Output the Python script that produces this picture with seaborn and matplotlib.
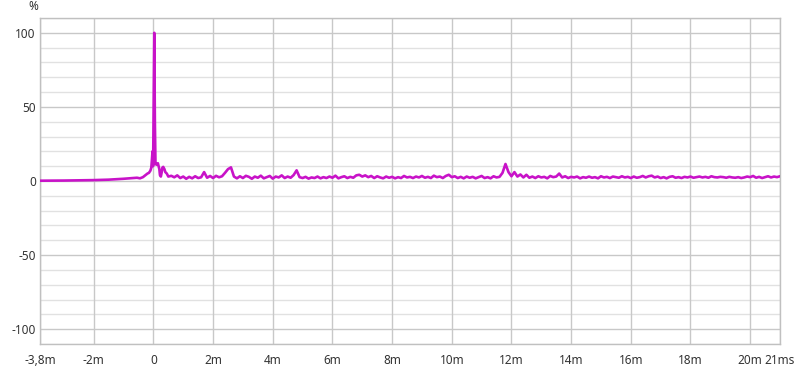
import numpy as np
import pandas as pd
import matplotlib
matplotlib.use("Agg")
import matplotlib.pyplot as plt
import seaborn as sns

# ---- data (time in ms, value in %) ----
head_t = [-3.8, -3.0, -2.0, -1.5, -1.0, -0.7, -0.55, -0.45, -0.35, -0.3, -0.25, -0.2,
          -0.15, -0.1, -0.07, -0.05, -0.03, -0.01, 0.0, 0.03, 0.05, 0.07, 0.1, 0.15,
          0.2, 0.22, 0.25, 0.28, 0.3, 0.33, 0.37, 0.4, 0.45, 0.5]
head_v = [0.2, 0.3, 0.6, 0.9, 1.5, 2.0, 2.2, 1.8, 2.6, 3.4, 4.2, 5.0,
          5.5, 7.0, 9.0, 14.0, 20.0, 10.0, 30.0, 100.0, 40.0, 12.0, 11.0, 12.0,
          8.0, 4.0, 3.0, 6.0, 9.0, 9.5, 8.0, 6.0, 5.0, 3.0]

tail_t = np.round(np.arange(0.6, 21.0001, 0.1), 2)
tail_v = [
    3.5, 2.5, 3.8, 2.0, 3.0, 1.5, 2.8, 1.8, 3.2, 2.0,
    2.5, 6.0, 2.2, 3.4, 2.0, 3.5, 2.5, 3.2, 5.5, 8.0,
    9.2, 3.0, 1.8, 3.2, 2.0, 3.5, 2.8, 1.5, 3.0, 2.2,
    3.6, 1.8, 2.6, 3.4, 1.6, 3.0, 2.4, 3.8, 2.0, 3.0,
    2.2, 4.0, 7.2, 2.6, 2.0, 2.8, 1.6, 2.4, 2.0, 3.0,
    1.8, 2.6, 2.0, 3.0, 2.2, 3.6, 1.8, 2.6, 3.2, 2.0,
    2.8, 2.2, 3.8, 4.2, 3.0, 3.8, 2.6, 3.4, 2.0, 3.2,
    2.4, 1.8, 3.0, 2.2, 2.8, 1.8, 2.6, 2.0, 3.4, 2.4,
    2.8, 2.0, 3.0, 2.4, 3.4, 2.2, 2.8, 2.0, 3.6, 2.6,
    3.0, 2.0, 3.4, 4.2, 2.6, 3.2, 2.0, 2.8, 1.8, 3.0,
    2.2, 2.8, 1.8, 2.6, 3.4, 2.0, 2.6, 1.8, 3.2, 2.4,
    2.8, 5.5, 11.5, 6.0, 3.2, 6.0, 3.0, 4.4, 2.4, 4.2,
    2.2, 3.0, 2.0, 3.2, 2.4, 2.8, 1.8, 3.4, 2.6, 3.0,
    5.0, 2.4, 3.2, 2.0, 2.8, 2.4, 3.0, 1.8, 2.6, 2.2,
    3.0, 2.2, 2.6, 1.8, 3.2, 2.4, 2.8, 2.0, 3.0, 2.6,
    2.2, 3.2, 2.4, 2.8, 2.0, 3.0, 2.2, 2.6, 3.4, 2.4,
    3.2, 3.6, 2.4, 3.0, 2.0, 2.6, 1.8, 2.8, 3.2, 2.2,
    2.6, 2.0, 2.8, 2.4, 3.0, 2.2, 2.6, 3.0, 2.4, 2.8,
    2.2, 3.2, 2.6, 2.4, 2.8, 2.6, 2.2, 2.8, 2.4, 2.2,
    2.6, 2.0, 2.4, 3.0, 2.6, 3.4, 2.2, 2.8, 2.0, 2.6,
    3.2, 2.4, 3.0, 2.6, 3.2,
]

x_ticks = [-3.8, -2, 0, 2, 4, 6, 8, 10, 12, 14, 16, 18, 20, 21]
x_labels = ["-3,8m", "-2m", "0", "2m", "4m", "6m", "8m", "10m", "12m",
            "14m", "16m", "18m", "20m", "21ms"]
y_ticks = [-100, -50, 0, 50, 100]
y_labels = ["-100", "-50", "0", "50", "100"]

df = pd.DataFrame({"t": list(head_t) + list(tail_t),
                   "v": list(head_v) + list(tail_v)})

sns.set_style("white")
plt.rcParams["font.family"] = ["Noto Sans", "DejaVu Sans"]

fig = plt.figure(figsize=(8.0, 3.69), dpi=100)
ax = fig.add_axes([40 / 800, 25 / 369, 740 / 800, 326 / 369])

# grid
for yv in range(-110, 111, 10):
    if yv % 50 == 0:
        ax.axhline(yv, color="#c8c8c8", lw=1.0, zorder=0)
    else:
        ax.axhline(yv, color="#e1e1e1", lw=1.0, zorder=0)
for xv in x_ticks:
    ax.axvline(xv, color="#c8c8c8", lw=1.0, zorder=0)

sns.lineplot(data=df, x="t", y="v", ax=ax, color="#c813c8", lw=1.9, zorder=3)

ax.set_xlim(-3.8, 21)
ax.set_ylim(-110, 110)
ax.set_xticks(x_ticks)
ax.set_xticklabels(x_labels)
ax.set_yticks(y_ticks)
ax.set_yticklabels(y_labels)
ax.tick_params(axis="both", length=0, labelsize=8.5, colors="#333333")
ax.tick_params(axis="x", pad=7)
ax.tick_params(axis="y", pad=3)
ax.set_xlabel("")
ax.set_ylabel("")
for s in ax.spines.values():
    s.set_color("#c0c0c0")
    s.set_linewidth(1.0)

fig.text(33 / 800, 1 - 7 / 369, "%", ha="center", va="center", fontsize=8.5,
         color="#333333")

fig.savefig("out.png", dpi=100)
